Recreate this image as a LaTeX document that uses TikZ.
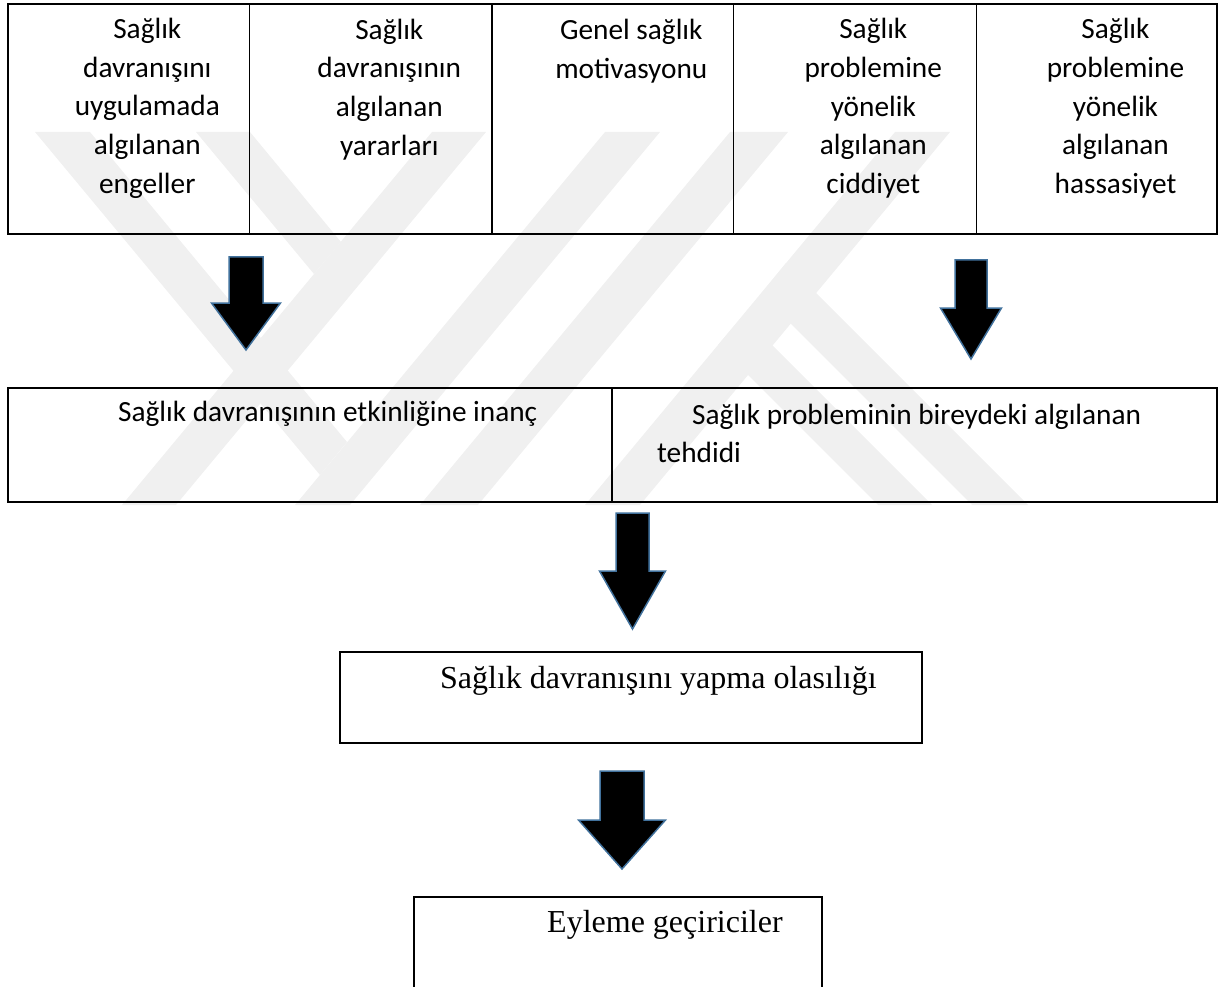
\documentclass[tikz,border=0pt]{standalone}
\usepackage{fontspec}
\setmainfont{Liberation Serif}
\newfontfamily\calibri{Carlito}
\definecolor{wm}{RGB}{240,240,240}
\definecolor{arrowline}{RGB}{65,113,156}
\tikzset{
  boxline/.style={draw=black, line width=1.3pt, inner sep=0pt, outer sep=0pt},
  cal/.style={font=\calibri\fontsize{29.3}{38.6}\selectfont, inner sep=0pt},
  tms/.style={font=\fontsize{32}{38}\selectfont, inner sep=0pt},
  wmband/.style={fill=wm, draw=none},
  blockarrow/.style={fill=black, draw=arrowline, line width=1.5pt, line join=miter},
  pics/blkarrow/.style args={#1/#2/#3/#4}{code={
    \draw[blockarrow] (-#1,0) -- (#1,0) -- (#1,#3) -- (#2,#3) -- (0,#4)
      -- (-#2,#3) -- (-#1,#3) -- cycle;
  }},
}
\begin{document}
\begin{tikzpicture}[x=1pt,y=-1pt]
\path[use as bounding box] (0,0) rectangle (1224,987);

% faint watermark
\begin{scope}
  \clip (0,132) rectangle (1224,505);
  \fill[wmband] (432,132) -- (486,132) -- (176,505) -- (122,505) -- cycle;
  \fill[wmband] (605,132) -- (660,132) -- (350,505) -- (295,505) -- cycle;
  \fill[wmband] (730,132) -- (788,132) -- (478,505) -- (420,505) -- cycle;
  \fill[wmband] (895,132) -- (950,132) -- (640,505) -- (585,505) -- cycle;
  \fill[wmband] (35,132) -- (90,132) -- (347,442) -- (320,475) -- cycle;
  \fill[wmband] (196,132) -- (250,132) -- (341,242) -- (314,274) -- cycle;
  \fill[wmband] (761,294) -- (786,263) -- (1028,505) -- (972,505) -- cycle;
  \fill[wmband] (718,345) -- (743,316) -- (932,505) -- (878,505) -- cycle;
\end{scope}

% top table
\node[boxline, anchor=north west, minimum width=1209pt, minimum height=230pt] (top) at (8,4) {};
\draw[line width=1.3pt] (249.5,4) -- (249.5,234);
\draw[line width=1.3pt] (492,4) -- (492,234);
\draw[line width=1.3pt] (733.5,4) -- (733.5,234);
\draw[line width=1.3pt] (976.5,4) -- (976.5,234);

\node[cal, align=center] (c1) at (147.3,108.3) {Sağlık\\davranışını\\uygulamada\\algılanan\\engeller};
\node[cal, align=center] (c2) at (389.3,89.3) {Sağlık\\davranışının\\algılanan\\yararları};
\node[cal, align=center] (c3) at (631.3,51) {Genel sağlık\\motivasyonu};
\node[cal, align=center] (c4) at (873.3,108.3) {Sağlık\\problemine\\yönelik\\algılanan\\ciddiyet};
\node[cal, align=center] (c5) at (1115.5,108.3) {Sağlık\\problemine\\yönelik\\algılanan\\hassasiyet};

% middle row
\node[boxline, anchor=north west, minimum width=1209pt, minimum height=114pt] (mid) at (8,388) {};
\draw[line width=1.3pt] (612,388) -- (612,502);
\node[cal, anchor=west] (m1) at (118,414) {Sağlık davranışının etkinliğine inanç};
\node[cal, anchor=west, align=left] (m2) at (657,433.5) {\hspace*{35pt}Sağlık probleminin bireydeki algılanan\\tehdidi};

% probability box
\node[boxline, anchor=north west, minimum width=582pt, minimum height=91pt] (prob) at (340,652) {};
\node[tms, anchor=west] (ptext) at (440,681) {Sağlık davranışını yapma olasılığı};

% cues to action box (runs off the bottom)
\coordinate (actl) at (414,897);
\coordinate (actr) at (822,897);
\draw[line width=1.3pt] (414,995) -- (actl) -- (actr) -- (822,995);
\node[tms, anchor=west] (atext) at (547,925) {Eyleme geçiriciler};

% block arrows
\coordinate (a1) at (246,257);
\coordinate (a2) at (971,260);
\coordinate (a3) at (632.5,513);
\coordinate (a4) at (622,771);
\pic at (a1) {blkarrow=17/34.5/46/93};
\pic at (a2) {blkarrow=16/30.5/48/99};
\pic at (a3) {blkarrow=16.5/33/58/116};
\pic at (a4) {blkarrow=22/43.5/49/98};
\end{tikzpicture}
\end{document}
